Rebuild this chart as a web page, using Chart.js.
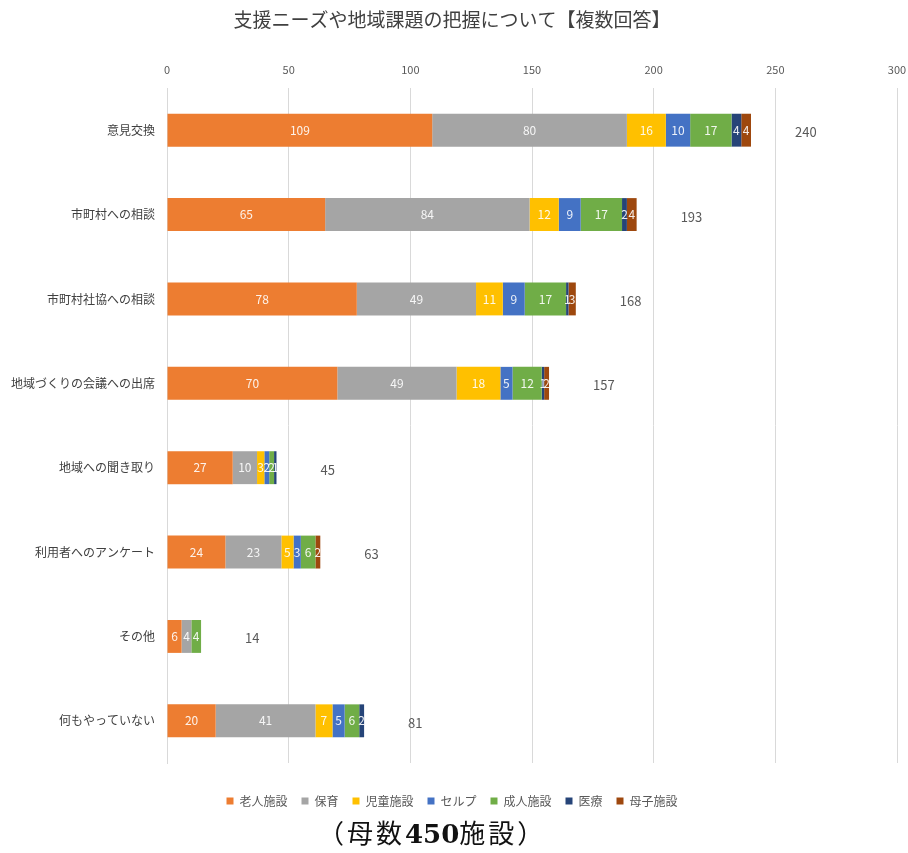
<!DOCTYPE html>
<html lang="ja">
<head>
<meta charset="utf-8">
<title>支援ニーズや地域課題の把握について</title>
<script src="https://cdn.jsdelivr.net/npm/chart.js@4.4.1/dist/chart.umd.min.js"></script>
<style>
    html, body { margin: 0; padding: 0; background: #fff; }
    #wrap { position: relative; width: 908px; height: 853px; }
    #chartBox { position: absolute; left: 0; top: 0; width: 908px; height: 853px; }
    #note {
        position: absolute; left: 318px; top: 813px;
        font-family: "Noto Sans CJK JP", sans-serif;
        font-size: 26px; color: #111; letter-spacing: 3px; white-space: nowrap;
    }
    #note b { font-family: "DejaVu Serif", serif; font-weight: bold; letter-spacing: 0; }
</style>
</head>
<body>
<div id="wrap">
    <div id="chartBox"><canvas id="needsChart"></canvas></div>
    <div id="note">（母数<b>450</b>施設）</div>
</div>
<script>
// Chart data
const categories = ['意見交換', '市町村への相談', '市町村社協への相談', '地域づくりの会議への出席',
    '地域への聞き取り', '利用者へのアンケート', 'その他', '何もやっていない'];
const seriesNames = ['老人施設', '保育', '児童施設', 'セルプ', '成人施設', '医療', '母子施設'];
const rojin  = [109, 65, 78, 70, 27, 24, 6, 20];
const hoiku  = [80, 84, 49, 49, 10, 23, 4, 41];
const jido   = [16, 12, 11, 18, 3, 5, 0, 7];
const selp   = [10, 9, 9, 5, 2, 3, 0, 5];
const seijin = [17, 17, 17, 12, 2, 6, 4, 6];
const iryo   = [4, 2, 1, 1, 1, 0, 0, 2];
const boshi  = [4, 4, 3, 2, 0, 2, 0, 0];
const xTicks = [0, 50, 100, 150, 200, 250, 300];

const seriesValues = [rojin, hoiku, jido, selp, seijin, iryo, boshi];
const seriesColors = ['#ED7D31', '#A5A5A5', '#FFC000', '#4472C4', '#70AD47', '#264478', '#9E480E'];
const totals = categories.map((c, i) => seriesValues.reduce((s, arr) => s + arr[i], 0));

const FONT = '"Noto Sans CJK JP", "Noto Sans", sans-serif';

// labels inside each segment + totals to the right
const barLabels = {
    id: 'barLabels',
    afterDatasetsDraw(chart) {
        const ctx = chart.ctx;
        ctx.save();
        ctx.font = '12px ' + FONT;
        ctx.textAlign = 'center';
        ctx.textBaseline = 'middle';
        chart.data.datasets.forEach((ds, di) => {
            const meta = chart.getDatasetMeta(di);
            meta.data.forEach((bar, i) => {
                const v = ds.data[i];
                if (!v) return;
                const x = (bar.x + bar.base) / 2;
                ctx.fillStyle = 'rgba(255,255,255,0.9)';
                ctx.fillText(String(v), x, bar.y);
            });
        });
        const xs = chart.scales.x;
        const ys = chart.scales.y;
        ctx.fillStyle = '#595959';
        ctx.font = '13px ' + FONT;
        ctx.textAlign = 'left';
        totals.forEach((t, i) => {
            ctx.fillText(String(t), xs.getPixelForValue(t) + 44, ys.getPixelForValue(i) + 2);
        });
        ctx.restore();
    }
};

function initializeChart() {
    const ctx = document.getElementById('needsChart');
    new Chart(ctx, {
        type: 'bar',
        data: {
            labels: categories,
            datasets: seriesNames.map((name, k) => ({
                label: name,
                data: seriesValues[k],
                backgroundColor: seriesColors[k],
                borderWidth: 0,
                barPercentage: 0.39,
                categoryPercentage: 1
            }))
        },
        options: {
            indexAxis: 'y',
            responsive: true,
            maintainAspectRatio: false,
            animation: false,
            layout: { padding: { left: 7, right: 11, top: 2, bottom: 36 } },
            plugins: {
                title: {
                    display: true,
                    text: '支援ニーズや地域課題の把握について【複数回答】',
                    color: '#404040',
                    font: { family: FONT, size: 19, weight: 'normal' },
                    padding: { top: 6, bottom: 20 }
                },
                legend: {
                    position: 'bottom',
                    labels: {
                        color: '#595959',
                        font: { family: FONT, size: 12 },
                        usePointStyle: true,
                        pointStyle: 'rect',
                        boxWidth: 7,
                        boxHeight: 7,
                        padding: 14
                    }
                },
                tooltip: { enabled: false }
            },
            scales: {
                x: {
                    position: 'top',
                    stacked: true,
                    min: 0,
                    max: 300,
                    afterBuildTicks: (axis) => { axis.ticks = xTicks.map(v => ({ value: v })); },
                    afterFit: (s) => { s.paddingLeft = 0; s.paddingRight = 0; },
                    grid: { color: '#D9D9D9', drawTicks: false },
                    border: { display: false },
                    ticks: { color: '#595959', font: { family: FONT, size: 11 }, padding: 12 }
                },
                // empty strip between plot and legend
                gap: {
                    type: 'linear',
                    axis: 'x',
                    position: 'bottom',
                    grid: { display: false, drawTicks: false },
                    border: { display: false },
                    ticks: { display: false },
                    afterFit: (s) => { s.height = 18; s.paddingLeft = 0; s.paddingRight = 0; }
                },
                y: {
                    stacked: true,
                    grid: { display: false },
                    border: { display: true, color: '#D9D9D9' },
                    ticks: { color: '#404040', font: { family: FONT, size: 12 }, padding: 4 }
                }
            }
        },
        plugins: [barLabels]
    });
}

document.addEventListener('DOMContentLoaded', initializeChart);
</script>
</body>
</html>
